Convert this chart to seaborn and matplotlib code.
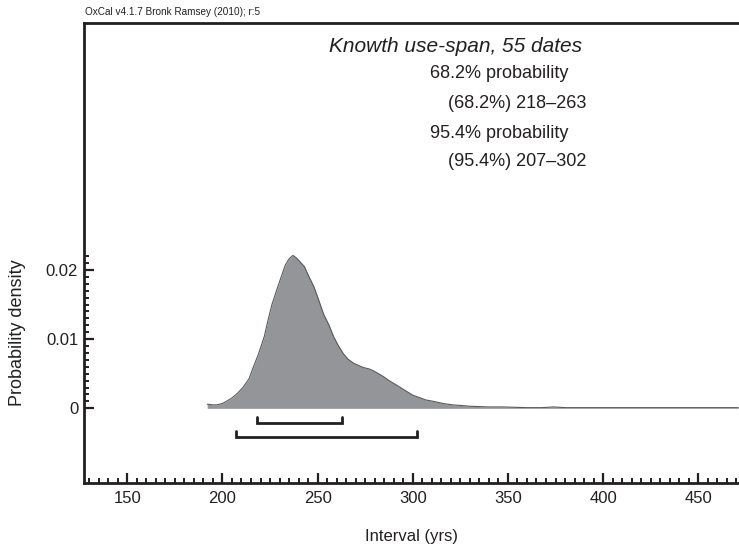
import matplotlib
matplotlib.use("Agg")
import matplotlib.pyplot as plt
import seaborn as sns
import numpy as np
import pandas as pd

# ---- data ----
interval = [192, 195, 197, 200, 202, 205, 208, 211, 214, 216, 219, 222, 224, 226,
            228.5, 231, 233, 235, 237, 239, 241, 243, 245.5, 248, 250.5, 253, 256,
            258.5, 261, 263.5, 266, 269, 271.5, 274, 277, 279.5, 282, 284.5, 287,
            290, 293, 297, 300, 304, 307, 311, 316, 321, 326, 330, 340, 347, 360,
            368, 374, 380, 395, 410, 430, 450, 471]
density = [0.0006, 0.0005, 0.0005, 0.0007, 0.0010, 0.0015, 0.0022, 0.0031, 0.0043, 0.0058,
           0.0079, 0.0104, 0.0128, 0.0150, 0.0171, 0.0191, 0.0207, 0.0216, 0.0221, 0.0217,
           0.0211, 0.0205, 0.0190, 0.0176, 0.0157, 0.0137, 0.0120, 0.0103, 0.0090, 0.0079,
           0.0071, 0.0065, 0.0062, 0.0059, 0.0057, 0.0054, 0.0050, 0.0046, 0.0041, 0.0036,
           0.0031, 0.0024, 0.0019, 0.0015, 0.0012, 0.0010, 0.0007, 0.0005, 0.0004, 0.0003,
           0.0002, 0.0002, 0.0001, 0.0001, 0.0002, 0.0001, 0.0001, 0.0001, 0.0001, 0.0001,
           0.0001]
range68 = [218, 263]
range95 = [207, 302]
bracket_levels = [-0.00208, -0.0041]
xticks = [150, 200, 250, 300, 350, 400, 450]
yticks = [0, 0.01, 0.02]
ytick_labels = ["0", "0.01", "0.02"]

title = "Knowth use-span, 55 dates"
info_lines = ["68.2% probability", "(68.2%) 218\u2013263", "95.4% probability", "(95.4%) 207\u2013302"]
credit = "OxCal v4.1.7 Bronk Ramsey (2010); r:5"

df = pd.DataFrame({"interval": interval, "density": density})

sns.set_theme(style="white")
plt.rcParams["font.family"] = ["Liberation Sans", "DejaVu Sans"]

ink = "#231f20"
fig = plt.figure(figsize=(7.39, 5.52), dpi=100)
ax = fig.add_axes([0.1143, 0.1255, 0.8857, 0.8328])

ax.fill_between(df["interval"], 0, df["density"], color="#939598", linewidth=0, zorder=2)
sns.lineplot(data=df, x="interval", y="density", ax=ax, color="#58595b", linewidth=0.8,
             zorder=3, estimator=None, sort=False)

tick_h = 0.00088
for (lo, hi), lvl in zip([range68, range95], bracket_levels):
    ax.plot([lo, lo, hi, hi], [lvl + tick_h, lvl, lvl, lvl + tick_h], color=ink,
            linewidth=2.0, solid_joinstyle="miter", zorder=3)

ax.set_xlim(127.5, 471.4)
ax.set_ylim(-0.01075, 0.05568)

ax.set_xticks(xticks)
ax.set_xticks(np.arange(130, 471, 5), minor=True)
ax.set_yticks(yticks)
ax.set_yticklabels(ytick_labels)
ax.set_yticks(np.arange(0, 0.02201, 0.001), minor=True)

ax.tick_params(axis="both", which="major", direction="in", length=7.5, width=1.6,
               color=ink, labelsize=12, labelcolor=ink)
ax.tick_params(axis="both", which="minor", direction="in", length=3.6, width=1.4, color=ink)
ax.tick_params(axis="x", which="both", bottom=True, top=False, pad=6)
ax.tick_params(axis="y", which="both", left=True, right=False, pad=4.5)

for side in ["left", "bottom", "top"]:
    ax.spines[side].set_visible(True)
    ax.spines[side].set_color(ink)
    ax.spines[side].set_linewidth(2.0)
ax.spines["right"].set_visible(False)

ax.set_xlabel("Interval (yrs)", fontsize=12, color=ink)
ax.xaxis.set_label_coords(0.5, -0.1007)
ax.set_ylabel("")
fig.text(18 / 739, 1 - 333 / 552, "Probability density", fontsize=13, color=ink,
         rotation=90, ha="center", va="center")

fig.text(85 / 739, 1 - 12 / 552, credit, fontsize=7.2, color=ink, ha="left", va="center")
fig.text(456 / 739, 1 - 47 / 552, title, fontsize=15, style="italic", color=ink,
         ha="center", va="center")
xs = [430, 448, 430, 448]
ys = [74, 104, 133, 162]
for line, x0, y0 in zip(info_lines, xs, ys):
    fig.text(x0 / 739, 1 - y0 / 552, line, fontsize=13, color=ink, ha="left", va="center")

fig.savefig("out.png", dpi=100)
